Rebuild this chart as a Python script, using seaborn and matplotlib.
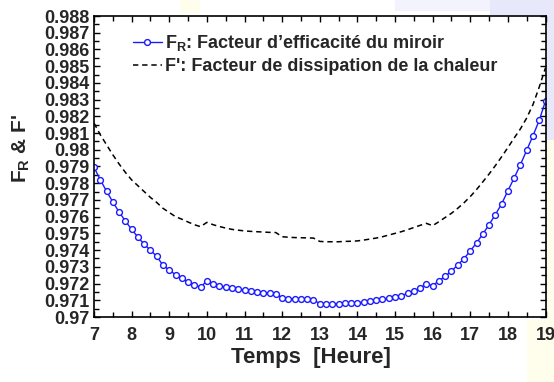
import numpy as np
import pandas as pd
import matplotlib
matplotlib.use("Agg")
import matplotlib.pyplot as plt
from matplotlib.patches import Rectangle
from matplotlib.ticker import MultipleLocator, FixedLocator, FixedFormatter
import seaborn as sns

# Time grid: one reading every 10 minutes from 7h to 19h
hours = np.arange(7 * 60, 19 * 60 + 1, 10) / 60.0

# F_R : mirror efficiency factor
f_r = [
    0.97895, 0.97821, 0.97752, 0.97688, 0.97628, 0.97574, 0.97524, 0.97478,
    0.97435, 0.97399, 0.97363, 0.97309, 0.97281, 0.97253, 0.97233, 0.97209,
    0.97193, 0.97179, 0.97216, 0.97199, 0.97187, 0.97179, 0.97172, 0.97166,
    0.97162, 0.97156, 0.97151, 0.97146, 0.97142, 0.97140, 0.97114, 0.97110,
    0.97108, 0.97107, 0.97105, 0.97103, 0.97080, 0.97078, 0.97078, 0.97080,
    0.97082, 0.97084, 0.97086, 0.97088, 0.97094, 0.97100, 0.97106, 0.97112,
    0.97120, 0.97127, 0.97141, 0.97155, 0.97173, 0.97199, 0.97187, 0.97217,
    0.97243, 0.97275, 0.97311, 0.97349, 0.97395, 0.97443, 0.97496, 0.97552,
    0.97612, 0.97676, 0.97755, 0.97831, 0.97911, 0.97997, 0.98084, 0.98176,
    0.98292,
]

# F' : heat dissipation factor
f_prime = [
    0.98160, 0.98090, 0.98030, 0.97970, 0.97915, 0.97865, 0.97820, 0.97785,
    0.97750, 0.97715, 0.97685, 0.97650, 0.97625, 0.97600, 0.97585, 0.97568,
    0.97552, 0.97540, 0.97566, 0.97552, 0.97541, 0.97532, 0.97524, 0.97519,
    0.97515, 0.97512, 0.97510, 0.97508, 0.97506, 0.97505, 0.97480, 0.97477,
    0.97475, 0.97474, 0.97473, 0.97472, 0.97452, 0.97450, 0.97450, 0.97450,
    0.97452, 0.97453, 0.97455, 0.97460, 0.97466, 0.97472, 0.97480, 0.97490,
    0.97500, 0.97510, 0.97522, 0.97535, 0.97548, 0.97560, 0.97546, 0.97570,
    0.97595, 0.97620, 0.97650, 0.97683, 0.97720, 0.97762, 0.97808, 0.97855,
    0.97905, 0.97958, 0.98013, 0.98070, 0.98125, 0.98190, 0.98270, 0.98375,
    0.98490,
]

x_ticks = [7, 8, 9, 10, 11, 12, 13, 14, 15, 16, 17, 18, 19]
y_ticks = [0.970, 0.971, 0.972, 0.973, 0.974, 0.975, 0.976, 0.977, 0.978,
           0.979, 0.980, 0.981, 0.982, 0.983, 0.984, 0.985, 0.986, 0.987, 0.988]
y_tick_labels = ["0.97", "0.971", "0.972", "0.973", "0.974", "0.975", "0.976",
                 "0.977", "0.978", "0.979", "0.98", "0.981", "0.982", "0.983",
                 "0.984", "0.985", "0.986", "0.987", "0.988"]

label_fr = "F$_\\mathbf{R}$: Facteur d\u2019efficacit\u00e9 du miroir"
label_fp = "F': Facteur de dissipation de la chaleur"

df = pd.DataFrame({"hours": hours, "fr": f_r, "fp": f_prime})

sns.set_style("ticks")
plt.rcParams["font.family"] = ["Liberation Sans", "DejaVu Sans"]
plt.rcParams["font.weight"] = "bold"
plt.rcParams["mathtext.fontset"] = "custom"
plt.rcParams["mathtext.rm"] = "Liberation Sans:bold"
plt.rcParams["mathtext.bf"] = "Liberation Sans:bold"

W, H = 554, 382
fig = plt.figure(figsize=(W / 100, H / 100), dpi=100)

# faint slide-background tints around the frame
def tint(x0, y0, x1, y1, color):
    fig.patches.append(Rectangle((x0 / W, 1 - y1 / H), (x1 - x0) / W,
                                 (y1 - y0) / H, transform=fig.transFigure,
                                 facecolor=color, edgecolor="none", zorder=-5))

tint(395, 0, 490, 11, "#f3f3fd")
tint(490, 0, 554, 15, "#e8e8fb")
tint(547, 15, 554, 140, "#e8e8fb")
tint(547, 140, 554, 320, "#fffdec")
tint(527, 320, 554, 382, "#fffdec")
tint(180, 0, 200, 13, "#fffdec")

ax = fig.add_axes([94 / W, 1 - 317 / H, 451.5 / W, 301 / H])

blue = "#1a1aff"
sns.lineplot(data=df, x="hours", y="fr", ax=ax, color=blue, linewidth=1.0,
             marker="o", markersize=4.2, markerfacecolor="white",
             markeredgecolor=blue, markeredgewidth=1.0, label=label_fr)
sns.lineplot(data=df, x="hours", y="fp", ax=ax, color="black", linewidth=1.1,
             linestyle=(0, (3.5, 2.5)), label=label_fp)

ax.set_xlim(7, 19)
ax.set_ylim(0.970, 0.988)
ax.xaxis.set_major_locator(FixedLocator(x_ticks))
ax.xaxis.set_minor_locator(MultipleLocator(0.5))
ax.yaxis.set_major_locator(FixedLocator(y_ticks))
ax.yaxis.set_major_formatter(FixedFormatter(y_tick_labels))
ax.yaxis.set_minor_locator(MultipleLocator(0.0005))

ax.tick_params(which="both", direction="in", top=True, right=True,
               width=1.0, color="black")
ax.tick_params(which="major", length=4)
ax.tick_params(which="minor", length=3.5)
ax.tick_params(axis="x", which="major", labelsize=13, pad=7)
ax.tick_params(axis="y", which="major", labelsize=13, pad=3)
for lab in ax.get_xticklabels() + ax.get_yticklabels():
    lab.set_fontweight("bold")

for sp in ax.spines.values():
    sp.set_visible(True)
    sp.set_linewidth(1.2)
    sp.set_color("black")

ax.set_xlabel("Temps  [Heure]", fontsize=16, fontweight="bold")
ax.set_ylabel("F$_\\mathbf{R}$ & F'", fontsize=15, fontweight="bold")
ax.xaxis.set_label_coords(0.48, -0.1)
ax.yaxis.set_label_coords(-0.138, 0.56)

leg = ax.legend(loc="upper left", bbox_to_anchor=(0.07, 0.968), frameon=False,
                fontsize=13, handlelength=1.6, handletextpad=0.2,
                labelspacing=0.3, borderaxespad=0.0)
for t in leg.get_texts():
    t.set_fontweight("bold")

fig.savefig("out.png", dpi=100, facecolor="white")
